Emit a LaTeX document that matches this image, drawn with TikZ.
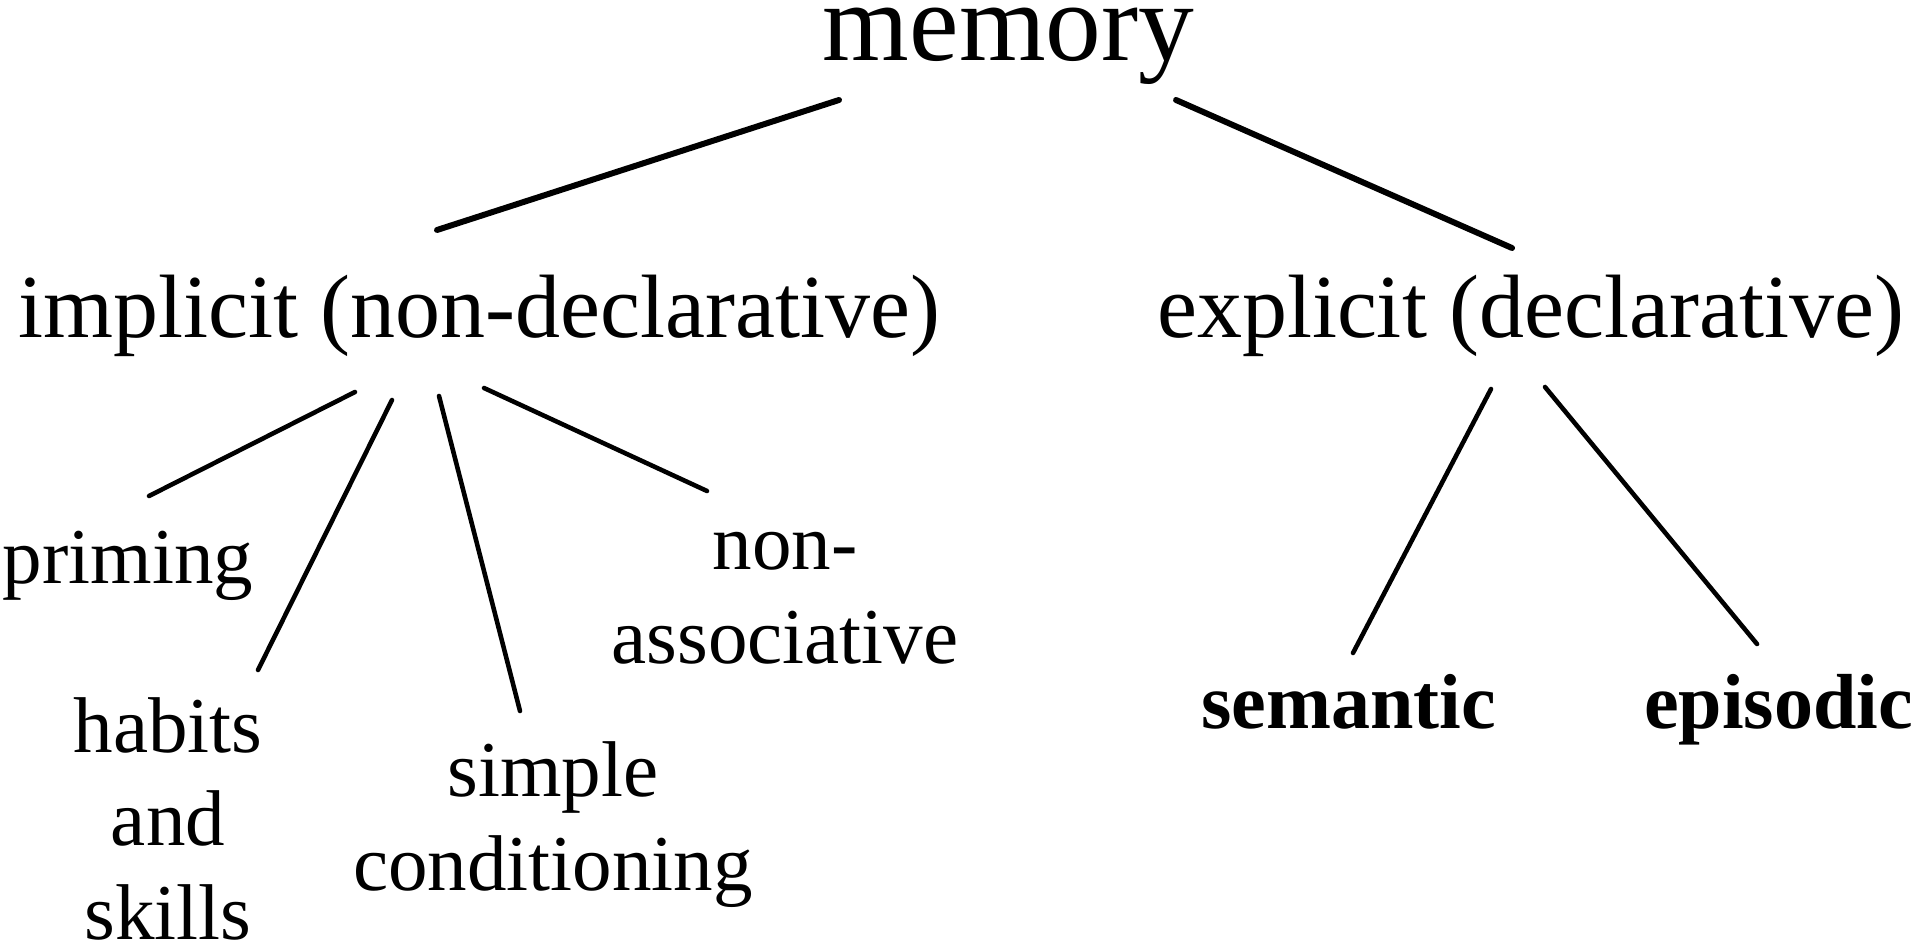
\documentclass[tikz,border=0pt]{standalone}
\usepackage{fontspec}
\setmainfont{Liberation Serif}
\usepackage{tikz}
\tikzset{
  root/.style   = { font=\fontsize{31.7}{36}\selectfont, anchor=base, inner sep=0pt },
  kind/.style   = { font=\fontsize{25.6}{30}\selectfont, anchor=base, inner sep=0pt },
  leaf/.style   = { font=\fontsize{22.5}{26.5}\selectfont, align=center, anchor=base, inner sep=0pt },
  strong/.style = { leaf, font=\fontsize{22.2}{26.5}\selectfont\bfseries },
  trunk/.style  = { line width=1.7pt, line cap=round },
  branch/.style = { line width=1.3pt, line cap=round }
}

\begin{document}
\begin{tikzpicture}
\useasboundingbox (0,0) rectangle (19.2,-9.5);
\node[root] (memory) at (10.085,-0.61) {memory};
\node[kind] (implicit) at (4.79,-3.37) {implicit (non-declarative)};
\node[kind] (explicit) at (15.305,-3.37) {explicit (declarative)};
\node[leaf] (priming) at (1.28,-5.83) {priming};
\node[leaf] (habits) at (1.68,-9.39) {habits\\and\\skills};
\node[leaf] (simple) at (5.53,-8.90) {simple\\conditioning};
\node[leaf] (nonassoc) at (7.85,-6.63) {non-\\associative};
\node[strong] (semantic) at (13.485,-7.28) {semantic};
\node[strong] (episodic) at (17.785,-7.28) {episodic};
% memory
\draw[trunk] ([shift={(-1.695,-0.39)}]memory.base) -- ([shift={(-0.42,1.07)}]implicit.base);
\draw[trunk] ([shift={(1.675,-0.39)}]memory.base) -- ([shift={(-0.185,0.89)}]explicit.base);
% implicit
\draw[branch] ([shift={(-1.24,-0.55)}]implicit.base) -- ([shift={(0.21,0.87)}]priming.base);
\draw[branch] ([shift={(-0.87,-0.63)}]implicit.base) -- ([shift={(0.90,2.69)}]habits.base);
\draw[branch] ([shift={(-0.40,-0.59)}]implicit.base) -- ([shift={(-0.33,1.79)}]simple.base);
\draw[branch] ([shift={(0.05,-0.51)}]implicit.base) -- ([shift={(-0.78,1.72)}]nonassoc.base);
% explicit
\draw[branch] ([shift={(-0.395,-0.52)}]explicit.base) -- ([shift={(0.045,0.75)}]semantic.base);
\draw[branch] ([shift={(0.145,-0.50)}]explicit.base) -- ([shift={(-0.215,0.84)}]episodic.base);
\end{tikzpicture}
\end{document}
